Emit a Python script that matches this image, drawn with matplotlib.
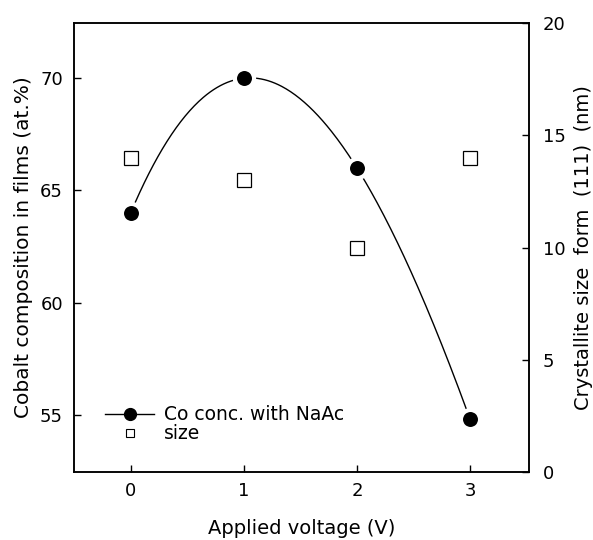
import numpy as np
import matplotlib
matplotlib.use("Agg")
import matplotlib.pyplot as plt
from matplotlib.lines import Line2D

# applied voltage (V)
voltage = [0, 1, 2, 3]
# cobalt content of films, at.%
co_conc = [64.0, 70.0, 66.0, 54.8]
# crystallite size from (111) peak, nm
cryst_size = [14.0, 13.0, 10.0, 14.0]

fig = plt.figure(figsize=(5.93, 5.40), dpi=100)
ax = fig.add_axes([0.125, 0.126, 0.767, 0.831])
ax2 = ax.twinx()

# smooth curve through the Co points (cubic through the 4 points)
coef = np.polyfit(voltage, co_conc, 3)
xs = np.linspace(voltage[0], voltage[-1], 300)
ax.plot(xs, np.polyval(coef, xs), color="black", lw=1.0, zorder=2)
ax.plot(voltage, co_conc, "o", ms=13.8, color="black", mec="white", mew=3, zorder=3)

ax2.plot(voltage, cryst_size, "s", ms=9.5, mfc="white", mec="black", mew=0.9, ls="none")

ax.set_xlim(-0.5, 3.52)
ax.set_ylim(52.46, 72.45)
ax2.set_ylim(0, 20)
ax.set_xticks([0, 1, 2, 3])
ax.set_yticks([55, 60, 65, 70])
ax2.set_yticks([0, 5, 10, 15, 20])

for a in (ax, ax2):
    a.tick_params(direction="in", length=5, width=1, labelsize=13)
    for s in a.spines.values():
        s.set_linewidth(1.1)
ax.tick_params(axis="x", pad=7)
ax.tick_params(axis="y", pad=8)
ax2.tick_params(axis="y", pad=10)

ax.set_xlabel("Applied voltage (V)", fontsize=14, labelpad=14)
ax.set_ylabel("Cobalt composition in films (at.%)", fontsize=14.5, labelpad=5)
ax2.set_ylabel("Crystallite size  form  (111)  (nm)", fontsize=14, labelpad=6)

handles = [
    Line2D([], [], color="black", lw=1.0, marker="o", ms=8.5),
    Line2D([], [], color="black", ls="none", marker="s", ms=6, mfc="white", mew=0.8),
]
ax.legend(handles, ["Co conc. with NaAc", "size"], loc="lower left",
          bbox_to_anchor=(0.04, 0.035), frameon=False, fontsize=13.5,
          handlelength=2.6, handletextpad=0.5, labelspacing=0.0,
          borderpad=0.2)

fig.savefig("out.png", dpi=100)
